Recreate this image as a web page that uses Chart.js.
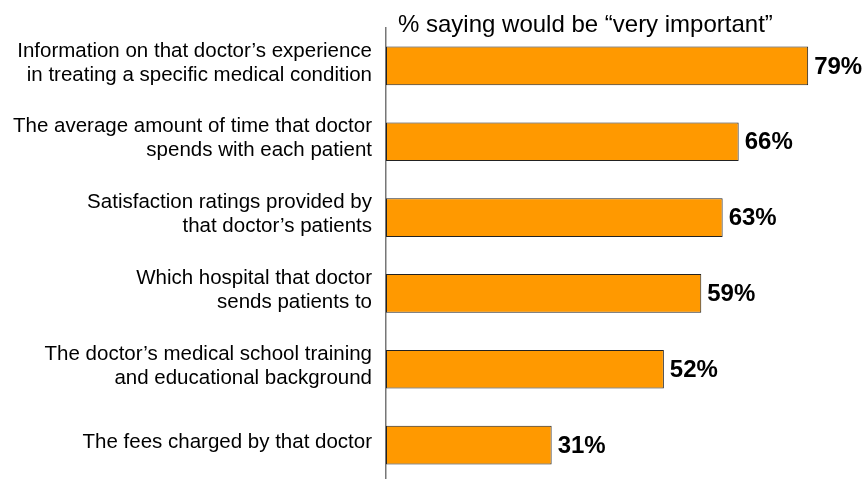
<!DOCTYPE html>
<html>
<head>
<meta charset="utf-8">
<script src="https://cdn.jsdelivr.net/npm/chart.js@4"></script>
<style>
  html, body { margin: 0; padding: 0; background: #fff; overflow: hidden; }
</style>
</head>
<body>
<canvas id="chart-importance" width="868" height="484"></canvas>
<script>
var labels = [
    ["Information on that doctor\u2019s experience", "in treating a specific medical condition"],
    ["The average amount of time that doctor", "spends with each patient"],
    ["Satisfaction ratings provided by", "that doctor\u2019s patients"],
    ["Which hospital that doctor", "sends patients to"],
    ["The doctor\u2019s medical school training", "and educational background"],
    "The fees charged by that doctor"
];
var veryImportant = [79, 66, 63, 59, 52, 31];
var chartTitle = "% saying would be \u201cvery important\u201d";

var FONT = "'Liberation Sans', Arial, Helvetica, sans-serif";

// draws the "79%" style labels at the end of each bar, plus the title above the plot
var valueLabels = {
    id: 'valueLabels',
    afterDatasetsDraw: function (chart) {
        var ctx = chart.ctx;
        var meta = chart.getDatasetMeta(0);
        ctx.save();
        ctx.fillStyle = '#000';
        ctx.font = 'bold 24px ' + FONT;
        ctx.textAlign = 'left';
        ctx.textBaseline = 'middle';
        meta.data.forEach(function (bar, i) {
            ctx.fillText(veryImportant[i] + '%', bar.x + 6, bar.y + 1);
        });
        ctx.font = '24px ' + FONT;
        ctx.textBaseline = 'alphabetic';
        ctx.fillText(chartTitle, chart.chartArea.left + 12, 32);
        ctx.restore();
    }
};

var ctx = document.getElementById('chart-importance');
new Chart(ctx, {
    type: 'bar',
    data: {
        labels: labels,
        datasets: [{
            data: veryImportant,
            backgroundColor: '#FF9900',
            borderColor: '#222',
            borderWidth: 1,
            borderSkipped: false,
            categoryPercentage: 1,
            barPercentage: 0.51
        }]
    },
    options: {
        indexAxis: 'y',
        responsive: false,
        animation: false,
        layout: { padding: { top: 28, left: 0, right: 0, bottom: 1 } },
        plugins: { legend: { display: false }, tooltip: { enabled: false } },
        scales: {
            x: { display: false, min: 0, max: 90.2 },
            y: {
                grid: { display: false, drawTicks: false },
                border: { display: true, color: '#777', width: 1.5 },
                ticks: {
                    color: '#000',
                    padding: 14,
                    labelOffset: -3,
                    font: { family: FONT, size: 20.5, lineHeight: 1.17 }
                },
                afterFit: function (scale) {
                    scale.width = 386;
                    // labels may hang over the plot edges, as in the original
                    scale.paddingTop = 0;
                    scale.paddingBottom = 0;
                }
            }
        }
    },
    plugins: [valueLabels]
});
</script>
</body>
</html>
